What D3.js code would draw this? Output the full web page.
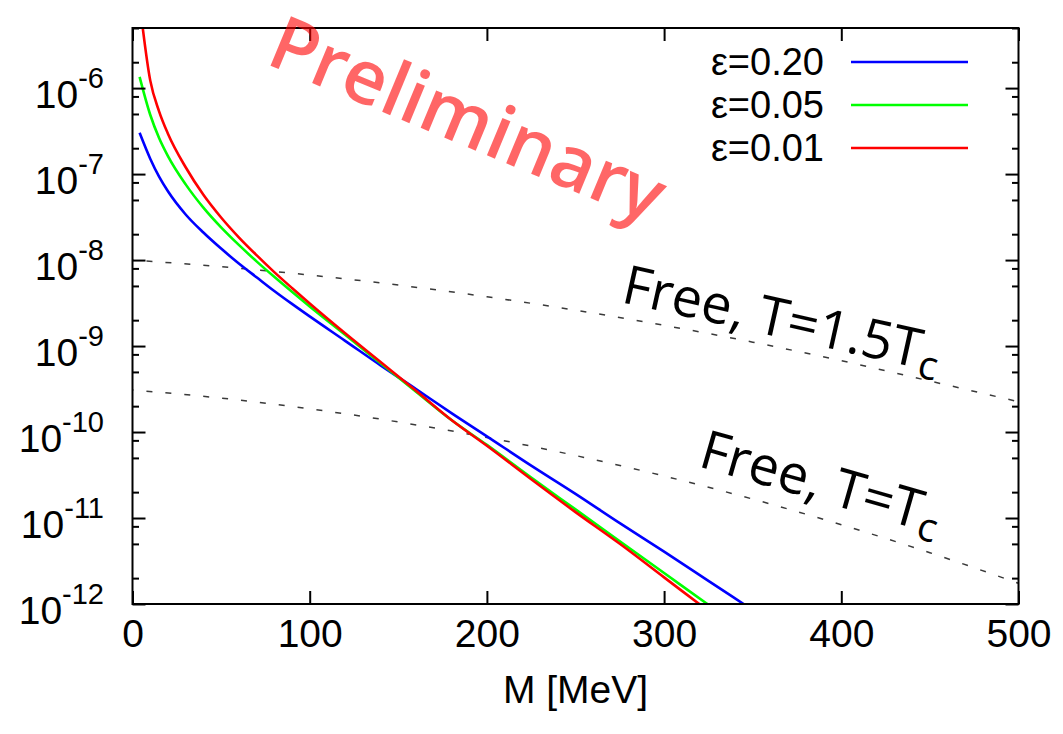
<!DOCTYPE html>
<html>
<head>
<meta charset="utf-8">
<script src="https://cdn.jsdelivr.net/npm/d3@7"></script>
<style>
  html, body { margin: 0; padding: 0; background: #fff; }
  svg { display: block; }
</style>
</head>
<body>
<svg id="chart" width="1063" height="734"></svg>
<script>
// Dilepton rate vs invariant mass M for three values of epsilon,
// compared with the free rates at T = Tc and T = 1.5 Tc.

const mass = [4, 10, 15, 20, 30, 40, 50, 60, 70, 80, 90, 100, 120, 140, 160, 180, 200, 225, 250, 275, 300, 325, 350];

const rateEps020 = [3.02e-7, 1.51e-7, 9.33e-8, 6.31e-8, 3.39e-8, 2.09e-8, 1.36e-8, 9.12e-9, 6.31e-9, 4.37e-9, 3.09e-9, 2.21e-9,
  1.15e-9, 5.96e-10, 3.16e-10, 1.66e-10, 8.91e-11, 4.07e-11, 1.91e-11, 8.71e-12, 4.07e-12, 1.86e-12, 8.5e-13];
const rateEps005 = [1.35e-6, 4.90e-7, 2.63e-7, 1.62e-7, 7.59e-8, 4.07e-8, 2.40e-8, 1.50e-8, 9.66e-9, 6.38e-9, 4.27e-9, 2.88e-9,
  1.35e-9, 6.31e-10, 2.95e-10, 1.38e-10, 7.08e-11, 2.95e-11, 1.26e-11, 5.37e-12, 2.29e-12, 9.8e-13, 4.1e-13];
const rateEps001 = [1.0e-5, 1.23e-6, 5.37e-7, 2.95e-7, 1.20e-7, 5.75e-8, 3.13e-8, 1.84e-8, 1.14e-8, 7.24e-9, 4.73e-9, 3.13e-9,
  1.41e-9, 6.53e-10, 3.02e-10, 1.38e-10, 6.92e-11, 2.82e-11, 1.17e-11, 5.01e-12, 2.04e-12, 8.3e-13, 3.4e-13];

const freeMass = [0, 50, 100, 150, 200, 250, 300, 350, 400, 450, 500];
const freeRate15Tc = [1.00e-8, 8.38e-9, 6.70e-9, 5.12e-9, 3.74e-9, 2.61e-9, 1.74e-9, 1.11e-9, 6.75e-10, 3.92e-10, 2.25e-10];
const freeRateTc = [3.08e-10, 2.48e-10, 1.86e-10, 1.31e-10, 8.65e-11, 5.33e-11, 3.08e-11, 1.66e-11, 8.36e-12, 3.95e-12, 1.74e-12];

const seriesLabels = ["ε=0.20", "ε=0.05", "ε=0.01"];
const seriesColors = ["#0000ff", "#00ff00", "#ff0000"];
const seriesRates = [rateEps020, rateEps005, rateEps001];

const xTicks = [0, 100, 200, 300, 400, 500];
const yExponents = [-12, -11, -10, -9, -8, -7, -6];
const yMinorMantissas = [2, 5, 8];

const xAxisTitle = "M [MeV]";
const freeLabels = [
  { main: "Free, T=1.5T", sub: "c" },
  { main: "Free, T=T", sub: "c" }
];
const watermark = "Preliminary";

// ---- layout ----
const svg = d3.select("#chart");
const plot = { left: 132.5, right: 1018.5, top: 28, bottom: 604 };

const x = d3.scaleLinear().domain([0, 500]).range([plot.left, plot.right]);
const y = d3.scaleLog().domain([1e-12, 5e-6]).range([plot.bottom, plot.top]);

svg.append("rect").attr("width", 1063).attr("height", 734).attr("fill", "#fff");

svg.append("defs").append("clipPath").attr("id", "plot-clip")
  .append("rect")
  .attr("x", plot.left).attr("y", plot.top)
  .attr("width", plot.right - plot.left).attr("height", plot.bottom - plot.top);

// ---- reference (free) curves ----
const freeLine = d3.line()
  .x((d, i) => x(freeMass[i]))
  .y(d => y(d))
  .curve(d3.curveMonotoneX);

const freeGroup = svg.append("g").attr("clip-path", "url(#plot-clip)");
[freeRate15Tc, freeRateTc].forEach(rates => {
  freeGroup.append("path")
    .attr("d", freeLine(rates))
    .attr("fill", "none")
    .attr("stroke", "#3a3a3a")
    .attr("stroke-width", 1.5)
    .attr("stroke-dasharray", "6,13")
    .attr("stroke-dashoffset", 5);
});

// ---- epsilon curves ----
const rateLine = d3.line()
  .x((d, i) => x(mass[i]))
  .y(d => y(d))
  .curve(d3.curveMonotoneX);

const curveGroup = svg.append("g").attr("clip-path", "url(#plot-clip)");
seriesRates.forEach((rates, k) => {
  curveGroup.append("path")
    .attr("d", rateLine(rates))
    .attr("fill", "none")
    .attr("stroke", seriesColors[k])
    .attr("stroke-width", 2.6)
    .attr("stroke-linejoin", "round");
});

// ---- axes (ticks drawn inward on all four sides) ----
const majorY = yExponents.map(e => Math.pow(10, e));
const minorY = [];
yExponents.forEach(e => yMinorMantissas.forEach(m => {
  const v = m * Math.pow(10, e);
  if (v <= y.domain()[1] * 1.0001) minorY.push(v);
}));

function styleAxis(g) {
  g.select(".domain").remove();
  g.selectAll(".tick line").attr("stroke", "#000").attr("stroke-width", 2);
}

svg.append("g").attr("transform", `translate(0,${plot.bottom})`)
  .call(d3.axisBottom(x).tickValues(xTicks).tickSizeInner(-13).tickSizeOuter(0).tickPadding(15))
  .call(styleAxis)
  .call(g => g.selectAll(".tick text")
    .attr("font-family", "'Liberation Sans', Arial, sans-serif")
    .attr("font-size", 39)
    .attr("fill", "#000"));

svg.append("g").attr("transform", `translate(0,${plot.top})`)
  .call(d3.axisTop(x).tickValues(xTicks).tickSizeInner(-13).tickSizeOuter(0).tickFormat(""))
  .call(styleAxis);

svg.append("g").attr("transform", `translate(${plot.left},0)`)
  .call(d3.axisLeft(y).tickValues(majorY).tickSizeInner(-13).tickSizeOuter(0).tickFormat(""))
  .call(styleAxis);
svg.append("g").attr("transform", `translate(${plot.left},0)`)
  .call(d3.axisLeft(y).tickValues(minorY).tickSizeInner(-6.5).tickSizeOuter(0).tickFormat(""))
  .call(styleAxis);
svg.append("g").attr("transform", `translate(${plot.right},0)`)
  .call(d3.axisRight(y).tickValues(majorY).tickSizeInner(-13).tickSizeOuter(0).tickFormat(""))
  .call(styleAxis);
svg.append("g").attr("transform", `translate(${plot.right},0)`)
  .call(d3.axisRight(y).tickValues(minorY).tickSizeInner(-6.5).tickSizeOuter(0).tickFormat(""))
  .call(styleAxis);

// y tick labels as powers of ten
const yLabels = svg.append("g")
  .attr("font-family", "'Liberation Sans', Arial, sans-serif")
  .attr("fill", "#000");
yExponents.forEach(e => {
  const t = yLabels.append("text")
    .attr("x", 104)
    .attr("y", y(Math.pow(10, e)) + 20)
    .attr("text-anchor", "end")
    .attr("font-size", 39);
  t.append("tspan").text("10");
  t.append("tspan").attr("font-size", 29).attr("dy", -20).text("-" + Math.abs(e));
});

// frame
svg.append("rect")
  .attr("x", plot.left).attr("y", plot.top)
  .attr("width", plot.right - plot.left).attr("height", plot.bottom - plot.top)
  .attr("fill", "none").attr("stroke", "#000").attr("stroke-width", 2);

// x axis title
svg.append("text")
  .attr("x", (plot.left + plot.right) / 2)
  .attr("y", 703)
  .attr("text-anchor", "middle")
  .attr("font-family", "'Liberation Sans', Arial, sans-serif")
  .attr("font-size", 39)
  .attr("fill", "#000")
  .text(xAxisTitle);

// ---- legend ----
const legend = svg.append("g");
seriesLabels.forEach((label, k) => {
  const ly = 62 + k * 43;
  legend.append("text")
    .attr("x", 824).attr("y", ly + 13)
    .attr("text-anchor", "end")
    .attr("font-family", "'Liberation Sans', Arial, sans-serif")
    .attr("font-size", 38)
    .attr("fill", "#000")
    .text(label);
  legend.append("line")
    .attr("x1", 851).attr("x2", 968)
    .attr("y1", ly).attr("y2", ly)
    .attr("stroke", seriesColors[k]).attr("stroke-width", 2.6);
});

// ---- annotations on the free curves ----
const freeAnchors = [
  { x: 620, y: 302, angle: 12.5 },
  { x: 697, y: 466, angle: 16 }
];
freeLabels.forEach((lab, i) => {
  const a = freeAnchors[i];
  const t = svg.append("text")
    .attr("transform", `translate(${a.x},${a.y}) rotate(${a.angle})`)
    .attr("font-family", "'Open Sans', 'Noto Sans', sans-serif")
    .attr("font-style", "normal")
    .attr("font-weight", 400)
    .attr("font-size", 54)
    .attr("fill", "#000");
  t.append("tspan").text(lab.main);
  t.append("tspan").attr("font-size", 40).attr("dy", 9).text(lab.sub);
});

// ---- watermark ----
svg.append("text")
  .attr("transform", "translate(264,63) rotate(22.5)")
  .attr("font-family", "'Open Sans', sans-serif")
  .attr("font-weight", 600)
  .attr("font-size", 75)
  .attr("fill", "#ff0000")
  .attr("fill-opacity", 0.6)
  .text(watermark);
</script>
</body>
</html>
